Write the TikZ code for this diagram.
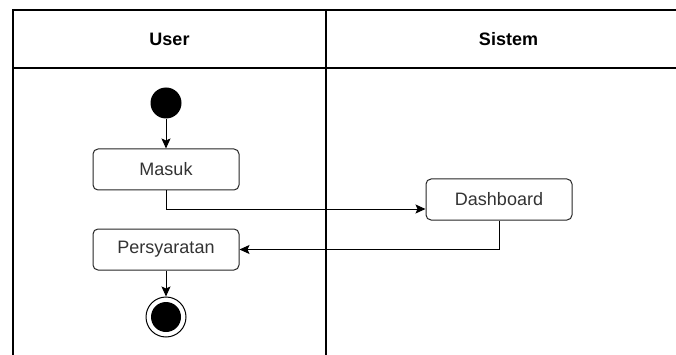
\documentclass[tikz,border=0pt]{standalone}
\usepackage{fontspec}
\setmainfont{Liberation Sans}
\usetikzlibrary{arrows.meta}
\begin{document}
\begin{tikzpicture}[x=1pt,y=-1pt,
  lane/.style={draw=black, line width=1.3pt},
  act/.style={draw=black!85, line width=1pt, rounded corners=5pt, fill=white,
    minimum width=146pt, minimum height=41pt, inner sep=0pt,
    font=\fontsize{18}{20}\selectfont, text=black!80},
  hdr/.style={font=\fontsize{18}{20}\selectfont\bfseries, text=black},
  flow/.style={draw=black, line width=1pt, -{Stealth[length=10pt,width=9pt,inset=2pt]}},
  startnode/.style={circle, fill=black, minimum size=31pt, inner sep=0pt},
  endnode/.style={circle, draw=black, line width=1pt, fill=white, minimum size=40pt, inner sep=0pt}]
\useasboundingbox (0,0) rectangle (676,355);
% swimlanes
\draw[lane] (13,355) -- (13,10) -- (676,10);
\draw[lane] (13,68) -- (676,68);
\draw[lane] (326,10) -- (326,355);
\node[hdr] (huser) at (169.5,39) {User};
\node[hdr] (hsis) at (508.5,39) {Sistem};
% nodes
\node[startnode] (start) at (166,103) {};
\node[act] (masuk) at (166,169.5) {Masuk};
\node[act] (dash) at (499,199.5) {Dashboard};
\node[act] (pers) at (166,249.5) {Persyaratan};
\node[endnode] (end) at (166,317) {};
\fill[black] (end.center) circle (15pt);
% connectors
\draw[flow] (start) -- (masuk.north);
\draw[flow] (masuk.south) |- ([yshift=-9.5pt]dash.west);
\draw[flow] (dash.south) |- (pers.east);
\draw[flow] (pers.south) -- (end.north);
\end{tikzpicture}
\end{document}
